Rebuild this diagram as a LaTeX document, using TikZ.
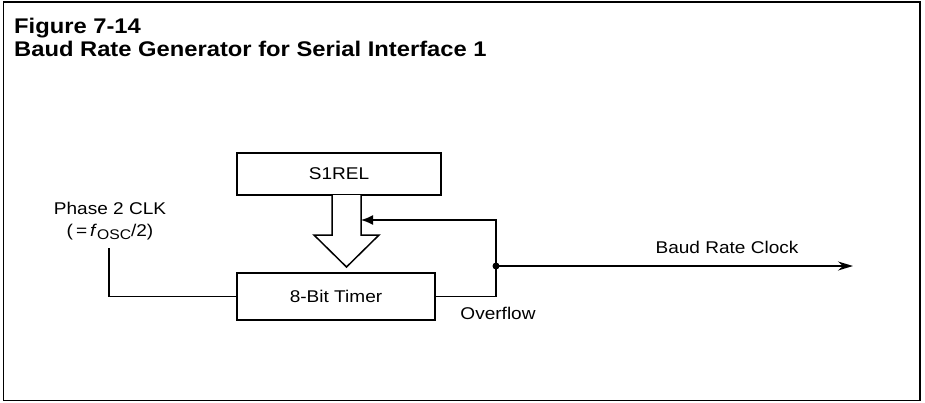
\documentclass[tikz,border=0pt]{standalone}
\usepackage{fontspec}
\setmainfont[FakeStretch=1.12]{Liberation Sans}
\usetikzlibrary{arrows.meta}
\begin{document}
\begin{tikzpicture}[x=1pt,y=-1pt,
  box/.style={draw, line width=2.3pt, inner sep=0pt, font=\fontsize{17}{17}\selectfont},
  wire/.style={line width=1.5pt},
  lbl/.style={inner sep=0pt, font=\fontsize{17}{20}\selectfont},
  ttl/.style={anchor=base west, inner sep=0pt, font=\bfseries\fontsize{21.2}{25}\selectfont}]
\useasboundingbox (0,0) rectangle (925,402);
\draw[line width=1.5pt] (3.5,2) rectangle (920,400.5);
\node[ttl] (t1) at (14,33) {Figure 7-14};
\node[ttl] (t2) at (14,56) {Baud Rate Generator for Serial Interface 1};
\node[box, minimum width=204pt, minimum height=42pt] (s1rel) at (339,174) {S1REL};
\node[box, minimum width=198pt, minimum height=47pt] (timer) at (336,296.5) {8-Bit Timer};
% hollow transfer arrow
\draw[line width=1.5pt, fill=white] (332,195) -- (332,235) -- (314,235) -- (346.5,267) -- (379,235) -- (361,235) -- (361,195);
\coordinate (junc) at (496,266);
\coordinate (fbtip) at (361,220);
\coordinate (out) at (853,266);
\coordinate (phin) at (109,248);
\draw[wire] (timer.east) -| (junc);
\draw[wire, -{Latex[length=12pt,width=10pt]}] (junc) |- (fbtip);
\draw[wire, -{Stealth[length=15pt,width=9pt]}] (junc) -- (out);
\fill (junc) circle (3.5pt);
\node[lbl] (ph1) at (110,208) {Phase 2 CLK};
\node[lbl] (ph2) at (110,232) {(\hspace{3pt}=\hspace{3pt}\textit{f}\raisebox{-3pt}{\fontsize{14}{14}\selectfont OSC}/2)};
\draw[wire] (phin) |- (timer.west);
\node[lbl] (brc) at (727,247) {Baud Rate Clock};
\node[lbl] (ovf) at (498,313) {Overflow};
\end{tikzpicture}
\end{document}
